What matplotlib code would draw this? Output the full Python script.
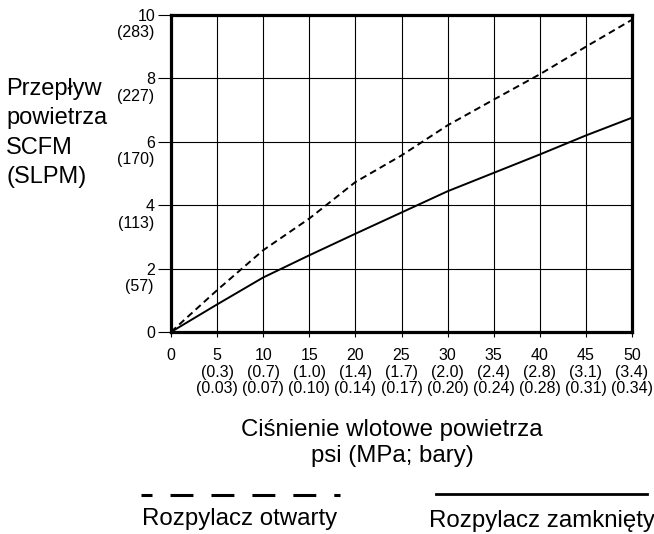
import numpy as np
import matplotlib
matplotlib.use("Agg")
import matplotlib.pyplot as plt
from matplotlib.lines import Line2D

plt.rcParams['font.family'] = ['Liberation Sans', 'DejaVu Sans']

# inlet pressure, psi, and its conversions
psi = [0, 5, 10, 15, 20, 25, 30, 35, 40, 45, 50]
mpa = ["", "0.3", "0.7", "1.0", "1.4", "1.7", "2.0", "2.4", "2.8", "3.1", "3.4"]
bar = ["", "0.03", "0.07", "0.10", "0.14", "0.17", "0.20", "0.24", "0.28", "0.31", "0.34"]

# flow SCFM and SLPM
scfm_ticks = [0, 2, 4, 6, 8, 10]
slpm_ticks = ["", "57", "113", "170", "227", "283"]

open_flow = [0, 1.32, 2.58, 3.58, 4.73, 5.57, 6.52, 7.33, 8.13, 9.0, 9.85]
closed_flow = [0, 0.87, 1.72, 2.42, 3.10, 3.77, 4.44, 5.02, 5.60, 6.20, 6.76]

W, H = 654, 534
fig = plt.figure(figsize=(W / 100, H / 100), dpi=100)
ax = fig.add_axes([171 / W, 1 - 332 / H, 461 / W, 317 / H])

ax.plot(psi, open_flow, color='black', lw=1.4, ls=(0, (3.5, 2.2)))
ax.plot(psi, closed_flow, color='black', lw=1.4)

ax.set_xlim(0, 50)
ax.set_ylim(0, 10)
ax.set_xticks(psi)
ax.set_xticklabels([str(p) for p in psi], fontsize=11.5, va='center')
ax.set_yticks(scfm_ticks)
ax.set_yticklabels([str(v) for v in scfm_ticks], fontsize=11.5)
ax.tick_params(axis='y', length=9.5, width=0.8, pad=2)
ax.tick_params(axis='x', length=3.6, width=0.8, pad=13)

for v, s in zip(scfm_ticks, slpm_ticks):
    if s:
        ax.annotate(f"({s})", xy=(0, v), xycoords=('axes fraction', 'data'),
                    xytext=(-17, -18), textcoords='offset pixels',
                    ha='right', va='center', fontsize=11.5)

for p, m, b in zip(psi, mpa, bar):
    if m:
        ax.annotate(f"({m})", xy=(p, 0), xycoords=('data', 'axes fraction'),
                    xytext=(0, -41), textcoords='offset pixels',
                    ha='center', va='center', fontsize=11.5)
        ax.annotate(f"({b})", xy=(p, 0), xycoords=('data', 'axes fraction'),
                    xytext=(0, -57), textcoords='offset pixels',
                    ha='center', va='center', fontsize=11.5)

ax.grid(True, color='black', lw=0.8)
for sp in ax.spines.values():
    sp.set_linewidth(2.3)

fig.text(6 / W, 1 - 133 / H, "Przepływ\npowietrza\nSCFM\n(SLPM)", ha='left', va='center',
         fontsize=17, linespacing=1.43)
fig.text(392 / W, 1 - 443 / H, "Ciśnienie wlotowe powietrza\npsi (MPa; bary)",
         ha='center', va='center', fontsize=17.3, linespacing=1.2)

# legend below
fig.add_artist(Line2D([141 / W, 340 / W], [1 - 495 / H] * 2, color='black', lw=2.2,
                      ls=(3.9, (7.5, 5.9))))
fig.add_artist(Line2D([436 / W, 647 / W], [1 - 494 / H] * 2, color='black', lw=2.0))
fig.text(240 / W, 1 - 519 / H, "Rozpylacz otwarty", ha='center', va='center', fontsize=17.3)
fig.text(542 / W, 1 - 521 / H, "Rozpylacz zamknięty", ha='center', va='center', fontsize=17.3)

fig.savefig("out.png", dpi=100)
